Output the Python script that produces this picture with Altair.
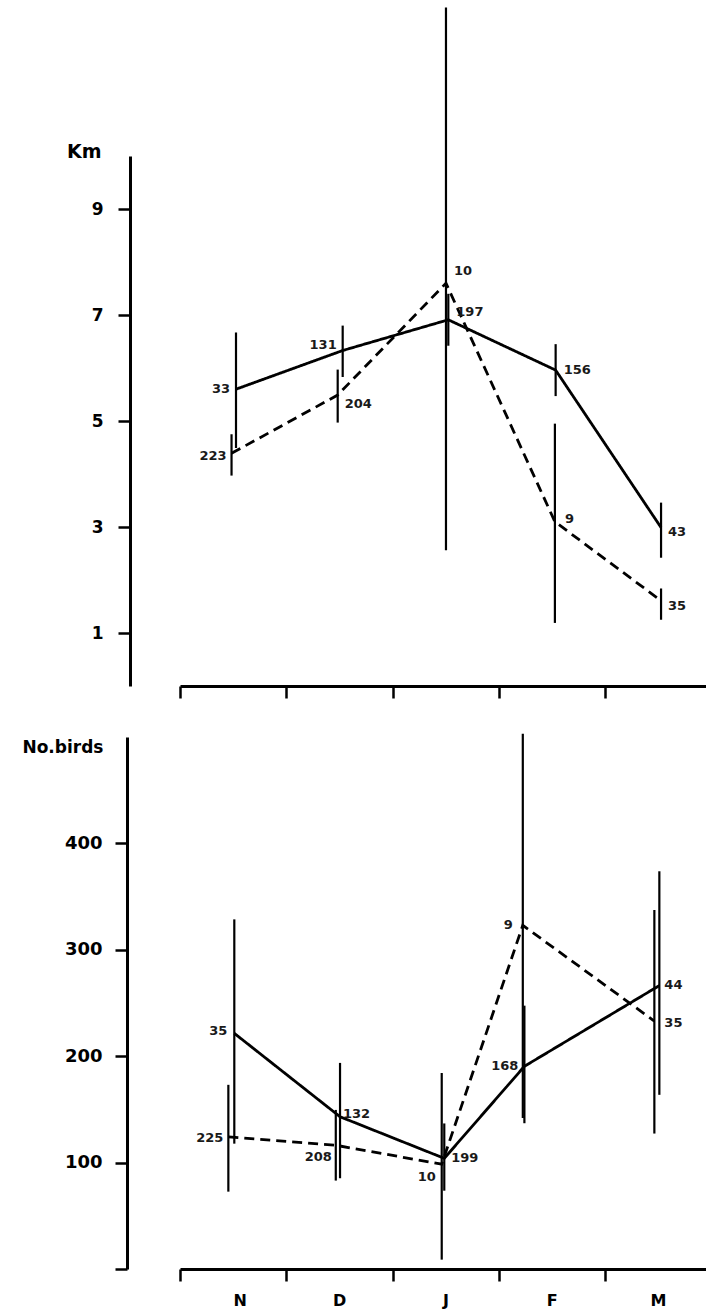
import altair as alt
import pandas as pd

# ---------------- data ----------------
MONTHS = ["N", "D", "J", "F", "M"]

# Upper panel: distance (Km); position = month index (fractional = where the bar sits)
KM_SOLID_POS = [0.027, 1.031, 2.025, 3.035, 4.027]
KM_SOLID_MEAN = [5.60, 6.33, 6.91, 5.96, 2.99]
KM_SOLID_LO = [4.49, 5.83, 6.42, 5.47, 2.42]
KM_SOLID_HI = [6.67, 6.80, 7.40, 6.45, 3.46]
KM_SOLID_N = [33, 131, 197, 156, 43]

KM_DASHED_POS = [-0.015, 0.984, 2.003, 3.028, 4.027]
KM_DASHED_MEAN = [4.39, 5.49, 7.60, 3.10, 1.61]
KM_DASHED_LO = [3.97, 4.97, 2.56, 1.19, 1.25]
KM_DASHED_HI = [4.75, 5.97, 12.80, 4.95, 1.84]
KM_DASHED_N = [223, 204, 10, 9, 35]

# Lower panel: number of birds
BIRDS_SOLID_POS = [0.011, 1.006, 1.987, 2.741, 4.011]
BIRDS_SOLID_MEAN = [221.5, 143.1, 104.0, 190.5, 266.4]
BIRDS_SOLID_LO = [117.8, 85.3, 73.6, 137.0, 163.7]
BIRDS_SOLID_HI = [328.6, 193.7, 136.8, 247.5, 373.8]
BIRDS_SOLID_N = [35, 132, 199, 168, 44]

BIRDS_DASHED_POS = [-0.045, 0.966, 1.963, 2.726, 3.964]
BIRDS_DASHED_MEAN = [124.2, 116.3, 98.5, 323.0, 233.0]
BIRDS_DASHED_LO = [72.7, 83.1, 8.8, 142.0, 127.3]
BIRDS_DASHED_HI = [173.1, 149.5, 184.2, 503.0, 337.4]
BIRDS_DASHED_N = [225, 208, 10, 9, 35]

KM_TICKS = [1, 3, 5, 7, 9]
BIRDS_TICKS = [0, 100, 200, 300, 400]
MONTH_BOUNDS = [-0.5, 0.5, 1.5, 2.5, 3.5]

# ---------------- layout / style ----------------
W, H = 526, 1113
KM_RANGE = [530, 0]
BIRDS_RANGE = [1113, 581]
FONT = "DejaVu Sans"

# label placement: (panel, series, month) -> (align, dx, dy)
LABEL_STYLE = {
    ("km", "solid", "N"): ("right", -6, 0),
    ("km", "dashed", "N"): ("right", -5, 3),
    ("km", "solid", "D"): ("right", -6, -6),
    ("km", "dashed", "D"): ("left", 7, 9),
    ("km", "dashed", "J"): ("left", 8, -12),
    ("km", "solid", "J"): ("left", 8, -8),
    ("km", "solid", "F"): ("left", 8, 0),
    ("km", "dashed", "F"): ("left", 10, -3),
    ("km", "solid", "M"): ("left", 7, 4),
    ("km", "dashed", "M"): ("left", 7, 5),
    ("birds", "solid", "N"): ("right", -7, -2),
    ("birds", "dashed", "N"): ("right", -5, 1),
    ("birds", "solid", "D"): ("left", 3, -3),
    ("birds", "dashed", "D"): ("right", -4, 12),
    ("birds", "solid", "J"): ("left", 7, 0),
    ("birds", "dashed", "J"): ("right", -6, 13),
    ("birds", "dashed", "F"): ("right", -10, 0),
    ("birds", "solid", "F"): ("right", -6, 0),
    ("birds", "solid", "M"): ("left", 5, -1),
    ("birds", "dashed", "M"): ("left", 10, 2),
}


def frame(pos_s, mean_s, lo_s, hi_s, n_s, pos_d, mean_d, lo_d, hi_d, n_d):
    rows = []
    for series, pos, mean, lo, hi, n in (
        ("solid", pos_s, mean_s, lo_s, hi_s, n_s),
        ("dashed", pos_d, mean_d, lo_d, hi_d, n_d),
    ):
        for m, p, v, l, h, k in zip(MONTHS, pos, mean, lo, hi, n):
            rows.append(dict(month=m, series=series, pos=p, mean=v, lo=l, hi=h, n=k))
    return pd.DataFrame(rows)


km_df = frame(KM_SOLID_POS, KM_SOLID_MEAN, KM_SOLID_LO, KM_SOLID_HI, KM_SOLID_N,
              KM_DASHED_POS, KM_DASHED_MEAN, KM_DASHED_LO, KM_DASHED_HI, KM_DASHED_N)
birds_df = frame(BIRDS_SOLID_POS, BIRDS_SOLID_MEAN, BIRDS_SOLID_LO, BIRDS_SOLID_HI, BIRDS_SOLID_N,
                 BIRDS_DASHED_POS, BIRDS_DASHED_MEAN, BIRDS_DASHED_LO, BIRDS_DASHED_HI, BIRDS_DASHED_N)

AXIS_STYLE = dict(
    domainColor="black", domainWidth=3, tickColor="black", tickWidth=2.5,
    labelColor="black", labelFont=FONT, labelFontWeight="bold",
    titleColor="black", titleFont=FONT, titleFontWeight="bold",
    grid=False,
)

X_SCALE = alt.Scale(domain=[-0.5, 4.45], nice=False, zero=False)
label_expr = "[" + ",".join("'%s'" % m for m in MONTHS) + "][round(datum.value + 0.5)]"

X_AXIS_KM = alt.Axis(orient="bottom", offset=-(H - KM_RANGE[0]), values=MONTH_BOUNDS,
                     labels=False, tickSize=12, title=None, **AXIS_STYLE)
X_AXIS_BIRDS = alt.Axis(orient="bottom", values=MONTH_BOUNDS, labelExpr=label_expr,
                        labelOffset=53, labelFontSize=16, labelPadding=11,
                        tickSize=12, title=None, **AXIS_STYLE)

KM_SCALE = alt.Scale(domain=[0, 10], range=KM_RANGE, nice=False, zero=True)
BIRDS_SCALE = alt.Scale(domain=[0, 500], range=BIRDS_RANGE, nice=False, zero=True)

Y_AXIS_KM = alt.Axis(orient="left", offset=50, values=KM_TICKS, tickSize=12,
                     labelFontSize=17, labelPadding=15,
                     title="Km", titleAngle=0, titleAlign="right", titleBaseline="middle",
                     titleX=-29, titleY=-5, titleFontSize=19, **AXIS_STYLE)
Y_AXIS_BIRDS = alt.Axis(orient="left", offset=53, values=BIRDS_TICKS, tickSize=12,
                        labelFontSize=18, labelPadding=13,
                        labelExpr="datum.value == 0 ? '' : datum.label",
                        title="No.birds", titleAngle=0, titleAlign="right", titleBaseline="middle",
                        titleX=-24, titleY=BIRDS_RANGE[1] + 10, titleFontSize=17, **AXIS_STYLE)


def panel(df, key, x_axis, y_scale, y_axis):
    def X():
        return alt.X("pos:Q", scale=X_SCALE, axis=x_axis)

    def Y(field):
        return alt.Y(field, type="quantitative", scale=y_scale, axis=y_axis)

    base = alt.Chart(df)
    lines = base.mark_line(color="black", strokeWidth=2.8, strokeCap="butt").encode(
        x=X(), y=Y("mean"),
        strokeDash=alt.StrokeDash("series:N", scale=alt.Scale(domain=["solid", "dashed"],
                                                              range=[[1, 0], [10, 6]]),
                                  legend=None),
        detail="series:N", order="pos:Q",
    )
    rules = base.mark_rule(color="black", strokeWidth=2.2).encode(
        x=X(), y=Y("lo"), y2="hi:Q",
    )
    layers = [lines, rules]
    for (p, s, m), (align, dx, dy) in LABEL_STYLE.items():
        if p != key:
            continue
        layers.append(
            base.transform_filter(
                (alt.datum.series == s) & (alt.datum.month == m)
            ).mark_text(align=align, baseline="middle", dx=dx, dy=dy, font=FONT,
                        fontSize=13, fontWeight="bold", color="#1a1a1a").encode(
                x=X(), y=Y("mean"), text="n:Q",
            )
        )
    return alt.layer(*layers)


top = panel(km_df, "km", X_AXIS_KM, KM_SCALE, Y_AXIS_KM)
bottom = panel(birds_df, "birds", X_AXIS_BIRDS, BIRDS_SCALE, Y_AXIS_BIRDS)

chart = alt.layer(top, bottom).resolve_scale(
    x="independent", y="independent"
).resolve_axis(
    x="independent", y="independent"
).properties(
    width=W, height=H,
    autosize=alt.AutoSizeParams(type="none"),
    padding={"left": 180, "top": 156, "right": 0, "bottom": 40},
    background="white",
).configure_view(stroke=None)

chart.save("out.html", embed_options={"renderer": "svg", "actions": False})
